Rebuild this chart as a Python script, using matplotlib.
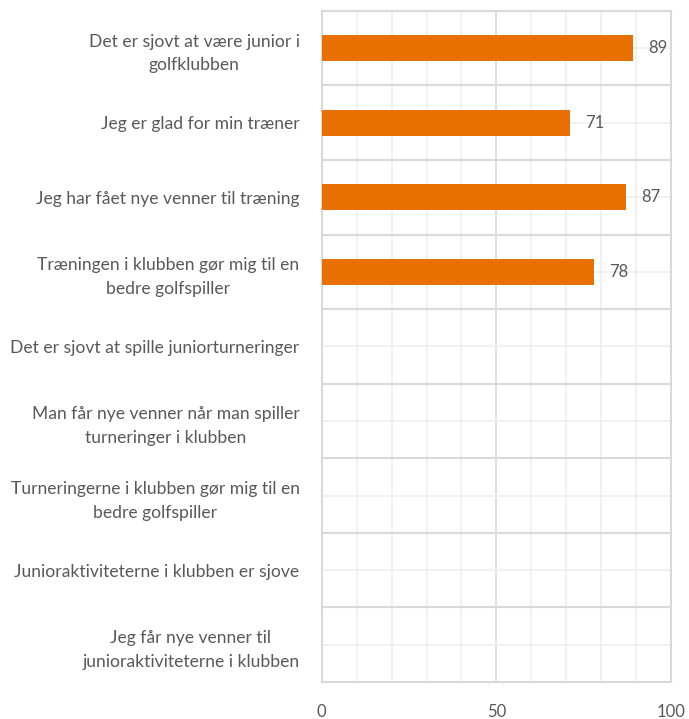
import matplotlib
matplotlib.use("Agg")
import matplotlib.pyplot as plt
import numpy as np

categories = [
    "Det er sjovt at være junior i\ngolfklubben",
    "Jeg er glad for min træner",
    "Jeg har fået nye venner til træning",
    "Træningen i klubben gør mig til en\nbedre golfspiller",
    "Det er sjovt at spille juniorturneringer",
    "Man får nye venner når man spiller\nturneringer i klubben",
    "Turneringerne i klubben gør mig til en\nbedre golfspiller",
    "Junioraktiviteterne i klubben er sjove",
    "Jeg får nye venner til\njunioraktiviteterne i klubben",
]
values = [89, 71, 87, 78, None, None, None, None, None]
x_ticks = [0, 50, 100]

plt.rcParams["font.family"] = ["Lato", "DejaVu Sans"]
txt = "#595959"
major = "#d9d9d9"
minor = "#efefef"

fig = plt.figure(figsize=(6.89, 7.19), dpi=100)
ax = fig.add_axes([0.467, 0.0515, 0.507, 0.9335])

y = np.arange(len(categories))
for yi, v in zip(y, values):
    if v is None:
        continue
    ax.barh(yi, v, height=0.35, color="#e87000", zorder=3)
    ax.annotate(str(v), (v, yi), xytext=(11, 0), textcoords="offset points",
                va="center", ha="left", fontsize=12, color=txt)

ax.set_xlim(0, 100)
ax.set_ylim(len(categories) - 0.5, -0.5)

ax.set_xticks(x_ticks)
ax.set_yticks(y)
ax.set_yticklabels(categories, fontsize=12.6, color=txt,
                   multialignment="center", linespacing=1.6)

ax.grid(False)
for xv in np.arange(10, 100, 10):
    ax.axvline(xv, color=major if xv == 50 else minor, lw=1.2, zorder=1)
for yb in np.arange(0.5, len(categories) - 0.5, 1):
    ax.axhline(yb, color=major, lw=1.5, zorder=1)
for yc in y:
    ax.axhline(yc, color=minor, lw=1.2, zorder=1)

for s in ax.spines.values():
    s.set_color(major)
    s.set_linewidth(1.5)

ax.tick_params(axis="both", which="both", length=0)
ax.tick_params(axis="y", pad=16)
ax.tick_params(axis="x", pad=16, labelsize=12, labelcolor=txt)

fig.savefig("out.png", dpi=100)
